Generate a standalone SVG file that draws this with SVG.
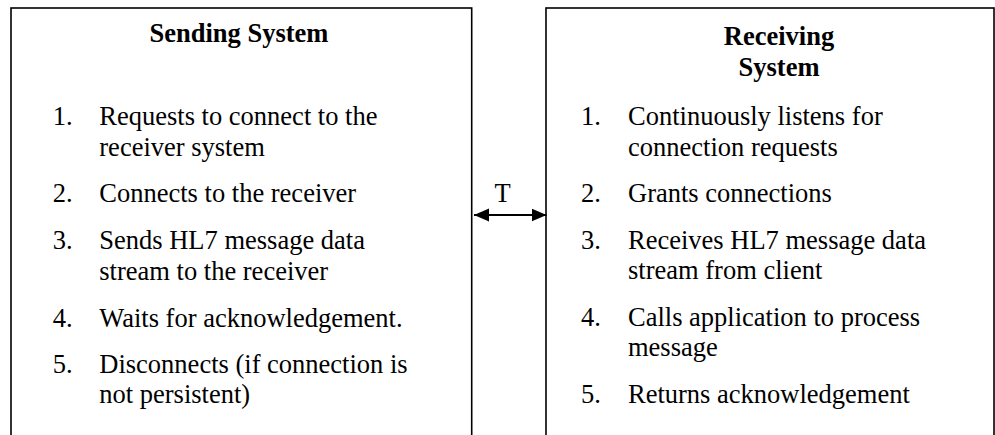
<svg xmlns="http://www.w3.org/2000/svg" width="995" height="435" viewBox="0 0 995 435">
<style>
  .box { fill: #ffffff; stroke: #000000; stroke-width: 1.6; }
  .t { font-family: "Liberation Serif", "Times New Roman", serif; font-size: 26.5px; fill: #000000; }
  .title { font-weight: bold; text-anchor: middle; }
  .conn { stroke: #000000; stroke-width: 2; fill: none; }
</style>
<defs>
  <marker id="arr" markerUnits="userSpaceOnUse" markerWidth="16" markerHeight="14" refX="15" refY="6.5" orient="auto-start-reverse">
    <path d="M0,0 L15,6.5 L0,13 Z" fill="#000000"/>
  </marker>
</defs>
<rect x="0" y="0" width="995" height="435" fill="#ffffff"/>
<g id="sending-system">
  <rect class="box" x="11" y="8" width="460.7" height="500"/>
  <text class="t title" x="239" y="41.7">Sending System</text>
  <text class="t" x="52.7" y="125">1.</text>
  <text class="t" x="99.3" y="125">Requests to connect to the</text>
  <text class="t" x="99.3" y="155.5">receiver system</text>
  <text class="t" x="52.7" y="201.7">2.</text>
  <text class="t" x="99.3" y="201.7">Connects to the receiver</text>
  <text class="t" x="52.7" y="249.3">3.</text>
  <text class="t" x="99.3" y="249.3">Sends HL7 message data</text>
  <text class="t" x="99.3" y="280">stream to the receiver</text>
  <text class="t" x="52.7" y="326.7">4.</text>
  <text class="t" x="99.3" y="326.7">Waits for acknowledgement.</text>
  <text class="t" x="52.7" y="373.3">5.</text>
  <text class="t" x="99.3" y="373.3">Disconnects (if connection is</text>
  <text class="t" x="99.3" y="403.3">not persistent)</text>
</g>
<g id="receiving-system">
  <rect class="box" x="546" y="8" width="448" height="500"/>
  <text class="t title" x="779" y="45">Receiving</text>
  <text class="t title" x="779" y="75.5">System</text>
  <text class="t" x="581" y="125">1.</text>
  <text class="t" x="628" y="125">Continuously listens for</text>
  <text class="t" x="628" y="155.5">connection requests</text>
  <text class="t" x="581" y="201.7">2.</text>
  <text class="t" x="628" y="201.7">Grants connections</text>
  <text class="t" x="581" y="248.5">3.</text>
  <text class="t" x="628" y="248.5">Receives HL7 message data</text>
  <text class="t" x="628" y="279.3">stream from client</text>
  <text class="t" x="581" y="325.7">4.</text>
  <text class="t" x="628" y="325.7">Calls application to process</text>
  <text class="t" x="628" y="355.5">message</text>
  <text class="t" x="581" y="402.7">5.</text>
  <text class="t" x="628" y="402.7">Returns acknowledgement</text>
</g>
<g id="connectors">
  <line class="conn" x1="474" y1="215" x2="546.5" y2="215" marker-start="url(#arr)" marker-end="url(#arr)"/>
  <text class="t" x="502.5" y="201.7" text-anchor="middle">T</text>
</g>
</svg>
